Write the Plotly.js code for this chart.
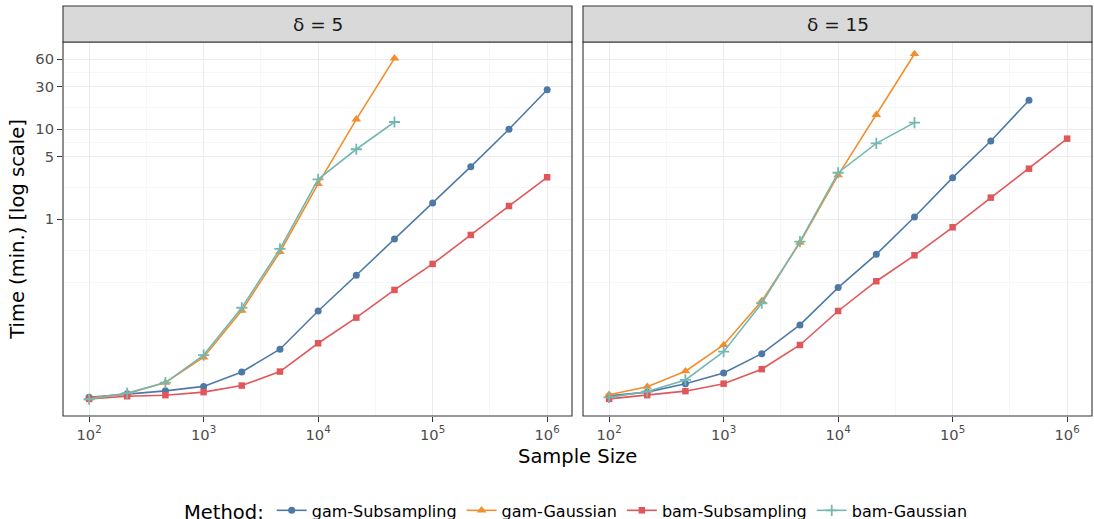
<!DOCTYPE html>
<html>
<head>
<meta charset="utf-8">
<script src="https://cdn.plot.ly/plotly-3.0.1.min.js"></script>
<style>html,body{margin:0;padding:0;background:#fff;}#chart{width:1094px;height:519px;}</style>
</head>
<body>
<div id="chart"></div>
<script>
const sampleSize = [100, 215, 464, 1000, 2154, 4642, 10000, 21544, 46416, 100000, 215443, 464159, 1000000];
const methods = ["gam-Subsampling", "gam-Gaussian", "bam-Subsampling", "bam-Gaussian"];
const panels = ["δ = 5", "δ = 15"];

// delta = 5
const d5_gamSub   = [0.0105, 0.0115, 0.0124, 0.0139, 0.0201, 0.036, 0.0957, 0.239, 0.604, 1.52, 3.84, 10.0, 27.5];
const d5_gamGauss = [0.0103, 0.0115, 0.0153, 0.0293, 0.0966, 0.433, 2.47, 12.9, 61.5];
const d5_bamSub   = [0.0101, 0.0108, 0.0111, 0.0120, 0.0142, 0.0203, 0.0419, 0.0807, 0.164, 0.319, 0.670, 1.405, 2.93];
const d5_bamGauss = [0.0100, 0.0117, 0.0153, 0.031, 0.104, 0.468, 2.78, 6.0, 12.05];
// delta = 15
const d15_gamSub   = [0.0109, 0.0120, 0.0149, 0.0196, 0.0321, 0.067, 0.174, 0.408, 1.06, 2.90, 7.41, 21.0];
const d15_gamGauss = [0.0112, 0.0138, 0.0205, 0.0401, 0.1237, 0.55, 3.10, 14.5, 68.7];
const d15_bamSub   = [0.0101, 0.0111, 0.0123, 0.0149, 0.0216, 0.0401, 0.0957, 0.205, 0.398, 0.815, 1.74, 3.65, 7.87];
const d15_bamGauss = [0.0105, 0.0122, 0.0164, 0.0338, 0.1167, 0.564, 3.29, 6.98, 11.85];

const yTickVals = [1, 5, 10, 30, 60];
const yMinorVals = [0.2, 0.453, 2.24, 7.07, 17.3, 42.4];
const xTickVals = [100, 1000, 10000, 100000, 1000000];
const xTickText = ["10<sup>2</sup>", "10<sup>3</sup>", "10<sup>4</sup>", "10<sup>5</sup>", "10<sup>6</sup>"];
const xMinorVals = [316.2, 3162, 31623, 316228];

const colors = ["#4E79A7", "#F28E2B", "#E15759", "#76B7B2"];
const symbols = ["circle", "triangle-up", "square", "cross-thin"];
const sizes = [7, 8.5, 6.5, 8];

const panelData = [
  [d5_gamSub, d5_gamGauss, d5_bamSub, d5_bamGauss],
  [d15_gamSub, d15_gamGauss, d15_bamSub, d15_bamGauss]
];

const traces = [];
panelData.forEach((series, p) => {
  series.forEach((vals, m) => {
    const isCross = symbols[m] === "cross-thin";
    traces.push({
      type: "scatter", mode: "lines+markers",
      x: sampleSize.slice(0, vals.length), y: vals,
      name: methods[m], legendgroup: methods[m], showlegend: p === 0,
      xaxis: p === 0 ? "x" : "x2", yaxis: p === 0 ? "y" : "y2",
      line: {color: colors[m], width: 1.6},
      marker: {symbol: symbols[m], size: sizes[m], color: colors[m],
               line: {color: colors[m], width: isCross ? 1.8 : 0}}
    });
  });
});

const W = 1029, H = 374;
const d1 = [0, 509 / W], d2 = [520 / W, 1];
const stripH = 36 / H;

const font = "DejaVu Sans, sans-serif";
const xBase = {
  type: "log", range: [1.772, 6.217], tickmode: "array", tickvals: xTickVals, ticktext: xTickText,
  ticks: "outside", ticklen: 5, tickcolor: "#333333", tickwidth: 1.1,
  tickfont: {family: font, size: 14.7, color: "#4D4D4D"},
  showgrid: true, gridcolor: "#EBEBEB", gridwidth: 1.1, zeroline: false, showline: false,
  minor: {tickmode: "array", tickvals: xMinorVals, showgrid: true, gridcolor: "#F2F2F2", gridwidth: 0.6, ticks: ""}
};
const yBase = {
  type: "log", range: [-2.186, 1.970], tickmode: "array", tickvals: yTickVals, ticktext: yTickVals.map(String),
  ticks: "outside", ticklen: 5, tickcolor: "#333333", tickwidth: 1.1,
  tickfont: {family: font, size: 14.7, color: "#4D4D4D"},
  showgrid: true, gridcolor: "#EBEBEB", gridwidth: 1.1, zeroline: false, showline: false,
  minor: {tickmode: "array", tickvals: yMinorVals, showgrid: true, gridcolor: "#F2F2F2", gridwidth: 0.6, ticks: ""}
};

const shapes = [];
const annotations = [];
[d1, d2].forEach((d, i) => {
  shapes.push({type: "rect", xref: "paper", yref: "paper", x0: d[0], x1: d[1], y0: 0, y1: 1,
    line: {color: "#333333", width: 1.1}, fillcolor: "rgba(0,0,0,0)", layer: "above"});
  shapes.push({type: "rect", xref: "paper", yref: "paper", x0: d[0], x1: d[1], y0: 1, y1: 1 + stripH,
    line: {color: "#333333", width: 1.1}, fillcolor: "#D9D9D9", layer: "above"});
  annotations.push({xref: "paper", yref: "paper", x: (d[0] + d[1]) / 2, y: 1 + stripH / 2,
    text: panels[i], showarrow: false, xanchor: "center", yanchor: "middle",
    font: {family: font, size: 18.5, color: "#1A1A1A"}});
});
annotations.push({xref: "paper", yref: "paper", x: 0.5, y: -0.107, yanchor: "middle", xanchor: "center",
  text: "Sample Size", showarrow: false, font: {family: font, size: 19.5, color: "#000000"}});

const layout = {
  width: 1094, height: 519,
  margin: {l: 63, r: 2, t: 42, b: 103, autoexpand: false},
  paper_bgcolor: "#FFFFFF", plot_bgcolor: "#FFFFFF",
  font: {family: font},
  xaxis: Object.assign({}, xBase, {domain: d1, anchor: "y"}),
  xaxis2: Object.assign({}, xBase, {domain: d2, anchor: "y2"}),
  yaxis: Object.assign({}, yBase, {anchor: "x",
    title: {text: "Time (min.) [log scale]", standoff: 5, font: {family: font, size: 19.5, color: "#000000"}}}),
  yaxis2: Object.assign({}, yBase, {anchor: "x2", showticklabels: false, ticks: ""}),
  showlegend: true,
  legend: {orientation: "h", x: 0.5, xanchor: "center", y: -0.207, yanchor: "top",
    title: {text: "Method:", side: "left", font: {family: font, size: 19.5, color: "#000000"}},
    font: {family: font, size: 16, color: "#000000"}, itemwidth: 30, tracegroupgap: 0},
  shapes: shapes, annotations: annotations
};

Plotly.newPlot("chart", traces, layout, {displayModeBar: false, staticPlot: true});
</script>
</body>
</html>
